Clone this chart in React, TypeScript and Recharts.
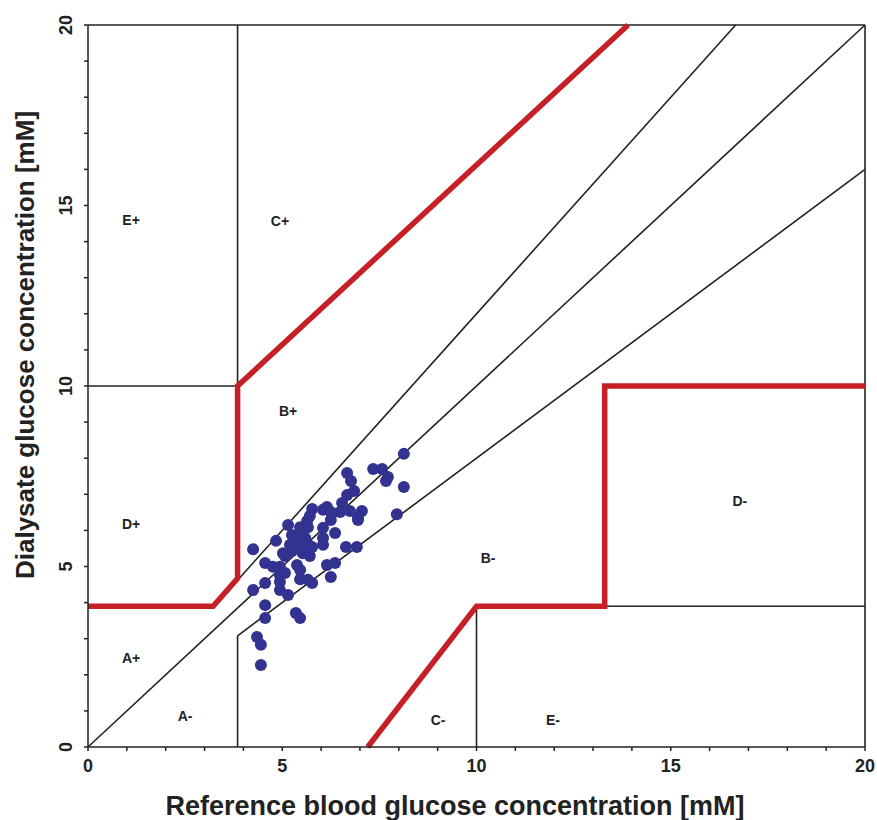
import React from "react";
import { ComposedChart, XAxis, YAxis, Line, Scatter } from "recharts";

// tick marks every 1 mM, labels every 5
const axisTicks = [0, 1, 2, 3, 4, 5, 6, 7, 8, 9, 10, 11, 12, 13, 14, 15, 16, 17, 18, 19, 20];
const labeledTicks = [0, 5, 10, 15, 20];

// red boundaries of the error grid
const upperRedBoundary = [
  { x: 0, y: 3.9 },
  { x: 3.22, y: 3.9 },
  { x: 3.85, y: 4.67 },
  { x: 3.85, y: 10 },
  { x: 13.9, y: 20 },
];
const lowerRedBoundary = [
  { x: 7.2, y: 0 },
  { x: 10, y: 3.9 },
  { x: 13.3, y: 3.9 },
  { x: 13.3, y: 10 },
  { x: 20, y: 10 },
];

// thin black zone lines
const zoneLines = [
  [{ x: 0, y: 0 }, { x: 20, y: 20 }],
  [{ x: 3.85, y: 4.62 }, { x: 16.67, y: 20 }],
  [{ x: 3.85, y: 3.08 }, { x: 20, y: 16 }],
  [{ x: 3.85, y: 0 }, { x: 3.85, y: 3.08 }],
  [{ x: 3.85, y: 10 }, { x: 3.85, y: 20 }],
  [{ x: 0, y: 10 }, { x: 3.85, y: 10 }],
  [{ x: 10, y: 0 }, { x: 10, y: 3.9 }],
  [{ x: 13.3, y: 3.9 }, { x: 20, y: 3.9 }],
  [{ x: 0, y: 20 }, { x: 20, y: 20 }],
  [{ x: 20, y: 0 }, { x: 20, y: 20 }],
];

const zoneLabels = [
  { x: 1.11, y: 14.6, label: "E+" },
  { x: 4.94, y: 14.57, label: "C+" },
  { x: 5.15, y: 9.31, label: "B+" },
  { x: 1.11, y: 6.18, label: "D+" },
  { x: 1.11, y: 2.47, label: "A+" },
  { x: 2.5, y: 0.86, label: "A-" },
  { x: 9.01, y: 0.75, label: "C-" },
  { x: 11.97, y: 0.75, label: "E-" },
  { x: 10.3, y: 5.24, label: "B-" },
  { x: 16.78, y: 6.81, label: "D-" },
];

// measured pairs
const referenceGlucose = [
  8.13, 7.34, 7.57, 6.67, 6.77, 7.72, 7.67, 8.13, 6.85, 6.67,
  6.54, 6.74, 7.05, 6.49, 6.95, 7.95, 5.77, 6.05, 6.15, 6.25,
  5.71, 6.25, 5.64, 5.46, 5.15, 5.66, 6.05, 6.36, 5.25, 4.84,
  4.25, 5.41, 5.59, 5.46, 5.64, 5.77, 6.05, 6.05, 6.64, 6.92,
  5.28, 5.38, 5.07, 5.25, 4.56, 4.76, 4.94, 5.38, 6.15, 6.36,
  5.46, 6.95, 5.02, 4.94, 5.07, 4.94, 4.94, 4.56, 4.25, 5.15,
  4.56, 4.56, 5.35, 5.46, 5.46, 5.46, 5.66, 5.77, 6.25, 4.35,
  4.45, 4.45, 5.2, 5.53, 5.71,
];
const dialysateGlucose = [
  8.12, 7.7, 7.7, 7.59, 7.37, 7.48, 7.37, 7.2, 7.09, 6.98,
  6.76, 6.54, 6.54, 6.51, 6.37, 6.45, 6.59, 6.57, 6.65, 6.51,
  6.4, 6.29, 6.26, 6.09, 6.15, 6.09, 6.07, 5.93, 5.87, 5.71,
  5.48, 5.76, 5.79, 5.6, 5.65, 5.54, 5.79, 5.6, 5.54, 5.54,
  5.51, 5.51, 5.29, 5.43, 5.1, 4.99, 4.99, 5.04, 5.04, 5.1,
  5.93, 6.29, 5.37, 4.76, 4.82, 4.57, 4.35, 4.54, 4.35, 4.21,
  3.93, 3.57, 3.71, 3.57, 4.9, 4.65, 4.63, 4.54, 4.71, 3.05,
  2.83, 2.27, 5.6, 5.37, 5.29,
];

const measurements = referenceGlucose.map((x, i) => ({ x, y: dialysateGlucose[i] }));

const FONT = "'Liberation Sans', Arial, Helvetica, sans-serif";
const RED = "#c71f26";
const DOT = "#323290";

const XTick = (props: any) => {
  const { x, y, payload } = props;
  if (!labeledTicks.includes(payload.value)) return <g />;
  return (
    <text x={x} y={y + 19} textAnchor="middle" fontFamily={FONT} fontWeight="bold" fontSize={18} fill="#222">
      {payload.value}
    </text>
  );
};

const YTick = (props: any) => {
  const { x, y, payload } = props;
  if (!labeledTicks.includes(payload.value)) return <g />;
  const bx = x - 10;
  return (
    <text
      x={bx}
      y={y}
      transform={`rotate(-90 ${bx} ${y})`}
      textAnchor="middle"
      fontFamily={FONT}
      fontWeight="bold"
      fontSize={18}
      fill="#222"
    >
      {payload.value}
    </text>
  );
};

const ZoneLabel = (props: any) => {
  const { cx, cy, payload } = props;
  return (
    <text x={cx} y={cy + 5} textAnchor="middle" fontFamily={FONT} fontWeight="bold" fontSize={14} fill="#222">
      {payload?.label}
    </text>
  );
};

const Dot = (props: any) => <circle cx={props.cx} cy={props.cy} r={6} fill={DOT} />;

export default function App() {
  return (
    <div style={{ position: "absolute", left: 0, top: 0, width: 877, height: 820, background: "#fff" }}>
      <ComposedChart width={877} height={820} margin={{ top: 25, right: 12, left: 0, bottom: 0 }}>
        <XAxis
          dataKey="x"
          type="number"
          domain={[0, 20]}
          ticks={axisTicks}
          interval={0}
          tickSize={4}
          tick={<XTick />}
          height={73}
          stroke="#222"
          strokeWidth={1.5}
          label={{
            content: () => (
              <text x={455} y={815} textAnchor="middle" fontFamily={FONT} fontWeight="bold" fontSize={27} fill="#222">
                Reference blood glucose concentration [mM]
              </text>
            ),
          }}
        />
        <YAxis
          dataKey="y"
          type="number"
          domain={[0, 20]}
          ticks={axisTicks}
          interval={0}
          tickSize={4}
          tick={<YTick />}
          width={88}
          stroke="#222"
          strokeWidth={1.5}
          label={{
            content: () => (
              <text
                x={34}
                y={345}
                transform="rotate(-90 34 345)"
                textAnchor="middle"
                fontFamily={FONT}
                fontWeight="bold"
                fontSize={26}
                fill="#222"
              >
                Dialysate glucose concentration [mM]
              </text>
            ),
          }}
        />
        {zoneLines.map((seg, i) => (
          <Line
            key={`zone-${i}`}
            data={seg}
            dataKey="y"
            stroke="#222"
            strokeWidth={1.6}
            dot={false}
            activeDot={false}
            isAnimationActive={false}
          />
        ))}
        <Line
          data={upperRedBoundary}
          dataKey="y"
          stroke={RED}
          strokeWidth={5.5}
          strokeLinejoin="miter"
          dot={false}
          activeDot={false}
          isAnimationActive={false}
        />
        <Line
          data={lowerRedBoundary}
          dataKey="y"
          stroke={RED}
          strokeWidth={5.5}
          strokeLinejoin="miter"
          dot={false}
          activeDot={false}
          isAnimationActive={false}
        />
        <Scatter data={zoneLabels} dataKey="y" shape={<ZoneLabel />} isAnimationActive={false} />
        <Scatter data={measurements} dataKey="y" shape={<Dot />} isAnimationActive={false} />
      </ComposedChart>
    </div>
  );
}
